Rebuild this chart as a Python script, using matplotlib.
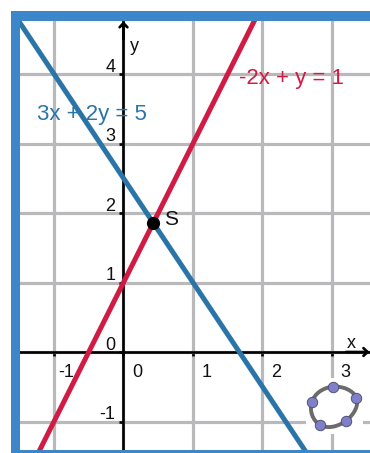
import matplotlib
matplotlib.use("Agg")
import matplotlib.pyplot as plt
from matplotlib.patches import Rectangle, PathPatch
from matplotlib.path import Path

# values
x_ticks = [-1, 0, 1, 2, 3]
y_ticks = [-1, 0, 1, 2, 3, 4]
x_tick_labels = ["-1", "0", "1", "2", "3"]
y_tick_labels = ["-1", "0", "1", "2", "3", "4"]

blue_x = [-1.5, 2.65]
blue_y = [4.75, -1.475]
red_x = [-1.25, 2.0]
red_y = [-1.5, 5.0]
point_s = (0.43, 1.86)

logo_x = [3.01, 2.71, 2.83, 3.20, 3.35]
logo_y = [-0.50, -0.72, -1.05, -0.99, -0.66]

W, H = 370, 453
X0, Y0 = 123.5, 352.0   # pixel of the origin, from top left
UNIT = 69.5
LEFT, TOP, BOTTOM = 20, 21, 450  # inner edge of the frame, pixels

BLUE = "#2a75a8"
RED = "#d01c45"
FRAME = "#3b87c9"
GRID = "#b9b9bc"

plt.rcParams["font.family"] = ["Liberation Sans", "DejaVu Sans"]

fig = plt.figure(figsize=(W / 100, H / 100), dpi=100)
ax = fig.add_axes([LEFT / W, 1 - BOTTOM / H, (W - LEFT) / W, (BOTTOM - TOP) / H])
ax.set_xlim((LEFT - X0) / UNIT, (W - X0) / UNIT)
ax.set_ylim((Y0 - BOTTOM) / UNIT, (Y0 - TOP) / UNIT)

# axes through the origin, with small ticks
for side in ["top", "right"]:
    ax.spines[side].set_visible(False)
ax.spines["left"].set_position(("data", 0))
ax.spines["bottom"].set_position(("data", 0))
ax.spines["left"].set_linewidth(1.9)
ax.spines["bottom"].set_linewidth(1.9)
ax.spines["left"].set_zorder(3)
ax.spines["bottom"].set_zorder(3)
ax.set_xticks(x_ticks)
ax.set_yticks(y_ticks)
ax.set_xticklabels([])
ax.set_yticklabels([])
ax.tick_params(length=3, width=1.9, direction="out")
ax.grid(True, color=GRID, linewidth=2.3, zorder=1)
ax.set_axisbelow(True)

for t, lab in zip(x_ticks, x_tick_labels):
    ax.annotate(lab, (t, 0), xytext=(8.6 if t == -1 else 9.7, -14.5), textcoords="offset points",
                ha="center", va="center", fontsize=13, color="#111111", zorder=6)
for t, lab in zip(y_ticks, y_tick_labels):
    ax.annotate(lab, (0, t), xytext=(-9.5 if t != -1 else -12, 5), textcoords="offset points",
                ha="center", va="center", fontsize=13, color="#111111", zorder=6)

# arrow heads on the axes
ax.annotate("", xy=(0, 4.76), xytext=(0, 4.5), zorder=5,
            arrowprops=dict(arrowstyle="->,head_length=0.3,head_width=0.28", color="black",
                            lw=1.9, shrinkA=0, shrinkB=0))
ax.annotate("", xy=(3.54, 0), xytext=(3.2, 0), zorder=5,
            arrowprops=dict(arrowstyle="->,head_length=0.3,head_width=0.28", color="black",
                            lw=1.9, shrinkA=0, shrinkB=0))
ax.text(0.15, 4.40, "y", fontsize=13, ha="center", va="center", color="#111111")
ax.text(3.28, 0.12, "x", fontsize=13, ha="center", va="center", color="#111111")

# the two lines and their crossing
ax.plot(blue_x, blue_y, color=BLUE, linewidth=3.6, zorder=4, solid_capstyle="butt")
ax.plot(red_x, red_y, color=RED, linewidth=3.6, zorder=4, solid_capstyle="butt")
ax.plot(*point_s, "o", color="black", markersize=8.5, zorder=7)
ax.text(0.68, 1.91, "S", fontsize=15, ha="center", va="center", color="#111111", zorder=7)

ax.text(-0.45, 3.42, "3x + 2y = 5", fontsize=16, color=BLUE, ha="center", va="center", zorder=6)
ax.text(2.42, 3.93, "-2x + y = 1", fontsize=16, color=RED, ha="center", va="center", zorder=6)

# logo in the corner: white square, closed curve through the five points
ax.add_patch(Rectangle((min(logo_x) - 0.09, min(logo_y) - 0.13),
                       max(logo_x) - min(logo_x) + 0.18, max(logo_y) - min(logo_y) + 0.26,
                       facecolor="white", edgecolor="none", zorder=4.5))
n = len(logo_x)
verts = [(logo_x[0], logo_y[0])]
codes = [Path.MOVETO]
for i in range(n):
    p0 = (logo_x[i - 1], logo_y[i - 1])
    p1 = (logo_x[i], logo_y[i])
    p2 = (logo_x[(i + 1) % n], logo_y[(i + 1) % n])
    p3 = (logo_x[(i + 2) % n], logo_y[(i + 2) % n])
    c1 = (p1[0] + (p2[0] - p0[0]) / 4.5, p1[1] + (p2[1] - p0[1]) / 4.5)
    c2 = (p2[0] - (p3[0] - p1[0]) / 4.5, p2[1] - (p3[1] - p1[1]) / 4.5)
    verts += [c1, c2, p2]
    codes += [Path.CURVE4, Path.CURVE4, Path.CURVE4]
ax.add_patch(PathPatch(Path(verts, codes), facecolor="none", edgecolor="#6b6b6b",
                       linewidth=2.8, zorder=5))
ax.plot(logo_x, logo_y, "o", markersize=7.5, markerfacecolor="#8080c8",
        markeredgecolor="#50507a", markeredgewidth=0.7, linestyle="none", zorder=6)

# blue frame, open on the right
frame = [(11, 11, W - 11, 10), (11, 11, 9, H - 11), (11, 450, W - 11, 3)]
for px, py, pw, ph in frame:
    fig.add_artist(Rectangle((px / W, 1 - (py + ph) / H), pw / W, ph / H,
                             transform=fig.transFigure, facecolor=FRAME,
                             edgecolor="none", zorder=10))

fig.savefig("out.png", dpi=100)
